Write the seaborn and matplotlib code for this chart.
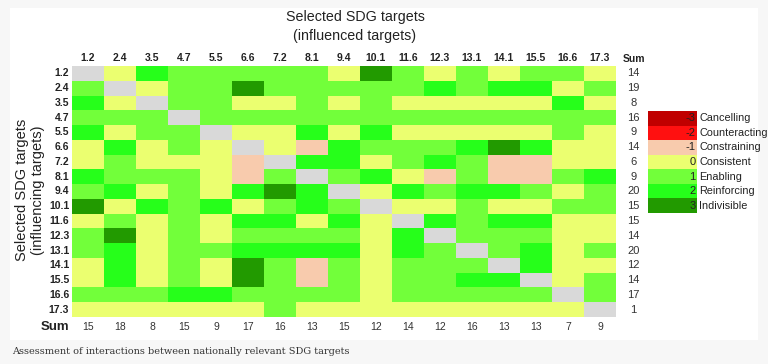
import matplotlib.pyplot as plt
import numpy as np
import pandas as pd
import seaborn as sns
from matplotlib.colors import BoundaryNorm, ListedColormap
from matplotlib.patches import Rectangle

targets = ["1.2", "2.4", "3.5", "4.7", "5.5", "6.6", "7.2", "8.1", "9.4",
           "10.1", "11.6", "12.3", "13.1", "14.1", "15.5", "16.6", "17.3"]

# rows = influencing target, columns = influenced target, None on the diagonal
interactions = [
    [None, 0, 2, 1, 1, 1, 1, 1, 0, 3, 1, 0, 1, 0, 1, 1, 0],
    [1, None, 0, 1, 1, 3, 1, 1, 1, 1, 1, 2, 1, 2, 2, 0, 1],
    [2, 0, None, 1, 1, 0, 0, 1, 0, 1, 0, 0, 0, 0, 0, 2, 0],
    [1, 1, 1, None, 1, 1, 1, 1, 1, 1, 1, 1, 1, 1, 1, 1, 1],
    [2, 0, 1, 1, None, 0, 0, 2, 0, 2, 0, 0, 0, 0, 0, 1, 0],
    [0, 2, 0, 1, 0, None, 0, -1, 2, 1, 1, 1, 2, 3, 2, 0, 0],
    [0, 1, 0, 0, 0, -1, None, 2, 2, 0, 1, 2, 1, -1, -1, 0, 0],
    [2, 1, 1, 1, 0, -1, 1, None, 1, 2, 0, -1, 1, -1, -1, 1, 2],
    [1, 2, 0, 1, 0, 2, 3, 2, None, 0, 2, 1, 2, 2, 1, 0, 1],
    [3, 0, 2, 1, 2, 0, 1, 2, 1, None, 0, 0, 1, 0, 0, 1, 1],
    [0, 1, 0, 1, 0, 2, 2, 0, 2, 0, None, 2, 1, 2, 2, 0, 0],
    [1, 3, 0, 1, 0, 1, 1, 1, 1, 0, 2, None, 1, 1, 1, 0, 0],
    [1, 2, 0, 1, 1, 2, 2, 2, 2, 0, 2, 1, None, 1, 2, 0, 1],
    [0, 2, 0, 1, 0, 3, 1, -1, 1, 0, 1, 1, 1, None, 2, 0, 0],
    [0, 2, 0, 1, 0, 3, 1, -1, 1, 0, 1, 1, 2, 2, None, 0, 1],
    [1, 1, 1, 2, 2, 1, 1, 1, 1, 0, 1, 1, 1, 1, 1, None, 1],
    [0, 0, 0, 0, 0, 0, 1, 0, 0, 0, 0, 0, 0, 0, 0, 0, None],
]

# sums as printed in the source table
row_sums = [14, 19, 8, 16, 9, 14, 6, 9, 20, 15, 15, 14, 20, 12, 14, 17, 1]
col_sums = [15, 18, 8, 15, 9, 17, 16, 13, 15, 12, 14, 12, 16, 13, 13, 7, 9]

levels = [-3, -2, -1, 0, 1, 2, 3]
level_names = ["Cancelling", "Counteracting", "Constraining", "Consistent",
               "Enabling", "Reinforcing", "Indivisible"]
level_colors = ["#c00000", "#ff1010", "#f8cbad", "#ebff70",
                "#72ff3a", "#26ff1a", "#229a00"]

df = pd.DataFrame(interactions, index=targets, columns=targets, dtype=float)

cmap = ListedColormap(level_colors)
norm = BoundaryNorm(np.arange(-3.5, 4.5, 1), cmap.N)

plain = ["Liberation Sans", "DejaVu Sans"]
plt.rcParams["font.family"] = plain

fig = plt.figure(figsize=(7.68, 3.64), dpi=100, facecolor="#f7f7f7")
fig.patches.append(Rectangle((10 / 768, 24 / 364), 748 / 768, 332 / 364,
                             transform=fig.transFigure, facecolor="white",
                             edgecolor="none", zorder=-10))

ax = fig.add_axes([72 / 768, 47 / 364, 544 / 768, 251 / 364])
ax.set_facecolor("#d9d9d9")
sns.heatmap(df, ax=ax, cmap=cmap, norm=norm, cbar=False, linewidths=0,
            xticklabels=targets, yticklabels=targets)
ax.xaxis.tick_top()
ax.tick_params(length=0, pad=2)
plt.setp(ax.get_xticklabels(), fontsize=7.5, fontweight="bold", rotation=0,
         color="#222222")
plt.setp(ax.get_yticklabels(), fontsize=7.5, fontweight="bold", rotation=0,
         color="#222222")
ax.set_xlabel("")
ax.set_ylabel("")

n = len(targets)
for i, s in enumerate(row_sums):
    ax.text(n + 0.55, i + 0.5, str(s), ha="center", va="center", fontsize=8,
            color="#333333")
for j, s in enumerate(col_sums):
    ax.text(j + 0.5, n + 0.65, str(s), ha="center", va="center", fontsize=7.5,
            color="#333333")
ax.text(n + 0.55, -0.45, "Sum", ha="center", va="center", fontsize=7.5,
        fontweight="bold", color="#222222")
ax.text(-0.1, n + 0.65, "Sum", ha="right", va="center", fontsize=9.5,
        fontweight="bold", color="#222222")

fig.text(355 / 768, 1 - 17 / 364, "Selected SDG targets", ha="center",
         va="center", fontsize=10.3, color="#222222")
fig.text(355 / 768, 1 - 36 / 364, "(influenced targets)", ha="center",
         va="center", fontsize=10.3, color="#222222")
fig.text(30 / 768, 1 - 190 / 364, "Selected SDG targets\n(influencing targets)",
         ha="center", va="center", rotation=90, fontsize=10.5,
         linespacing=1.25, color="#222222")

# legend as a one-column heatmap
lax = fig.add_axes([648 / 768, 151 / 364, 49 / 768, 102 / 364])
sns.heatmap(pd.DataFrame({"v": levels}, index=level_names), ax=lax, cmap=cmap,
            norm=norm, cbar=False, xticklabels=False, yticklabels=False,
            linewidths=0)
lax.set_xlabel("")
lax.set_ylabel("")
for k, (lv, name) in enumerate(zip(levels, level_names)):
    lax.text(0.97, k + 0.5, str(lv), ha="right", va="center", fontsize=8,
             color="#222222")
    lax.text(1.05, k + 0.5, name, ha="left", va="center", fontsize=7.8,
             color="#222222")

fig.text(12 / 768, 1 - 352 / 364,
         "Assessment of interactions between nationally relevant SDG targets",
         ha="left", va="center", fontsize=7, color="#333333",
         family=["DejaVu Serif"])

fig.savefig("out.png", dpi=100, facecolor=fig.get_facecolor())
